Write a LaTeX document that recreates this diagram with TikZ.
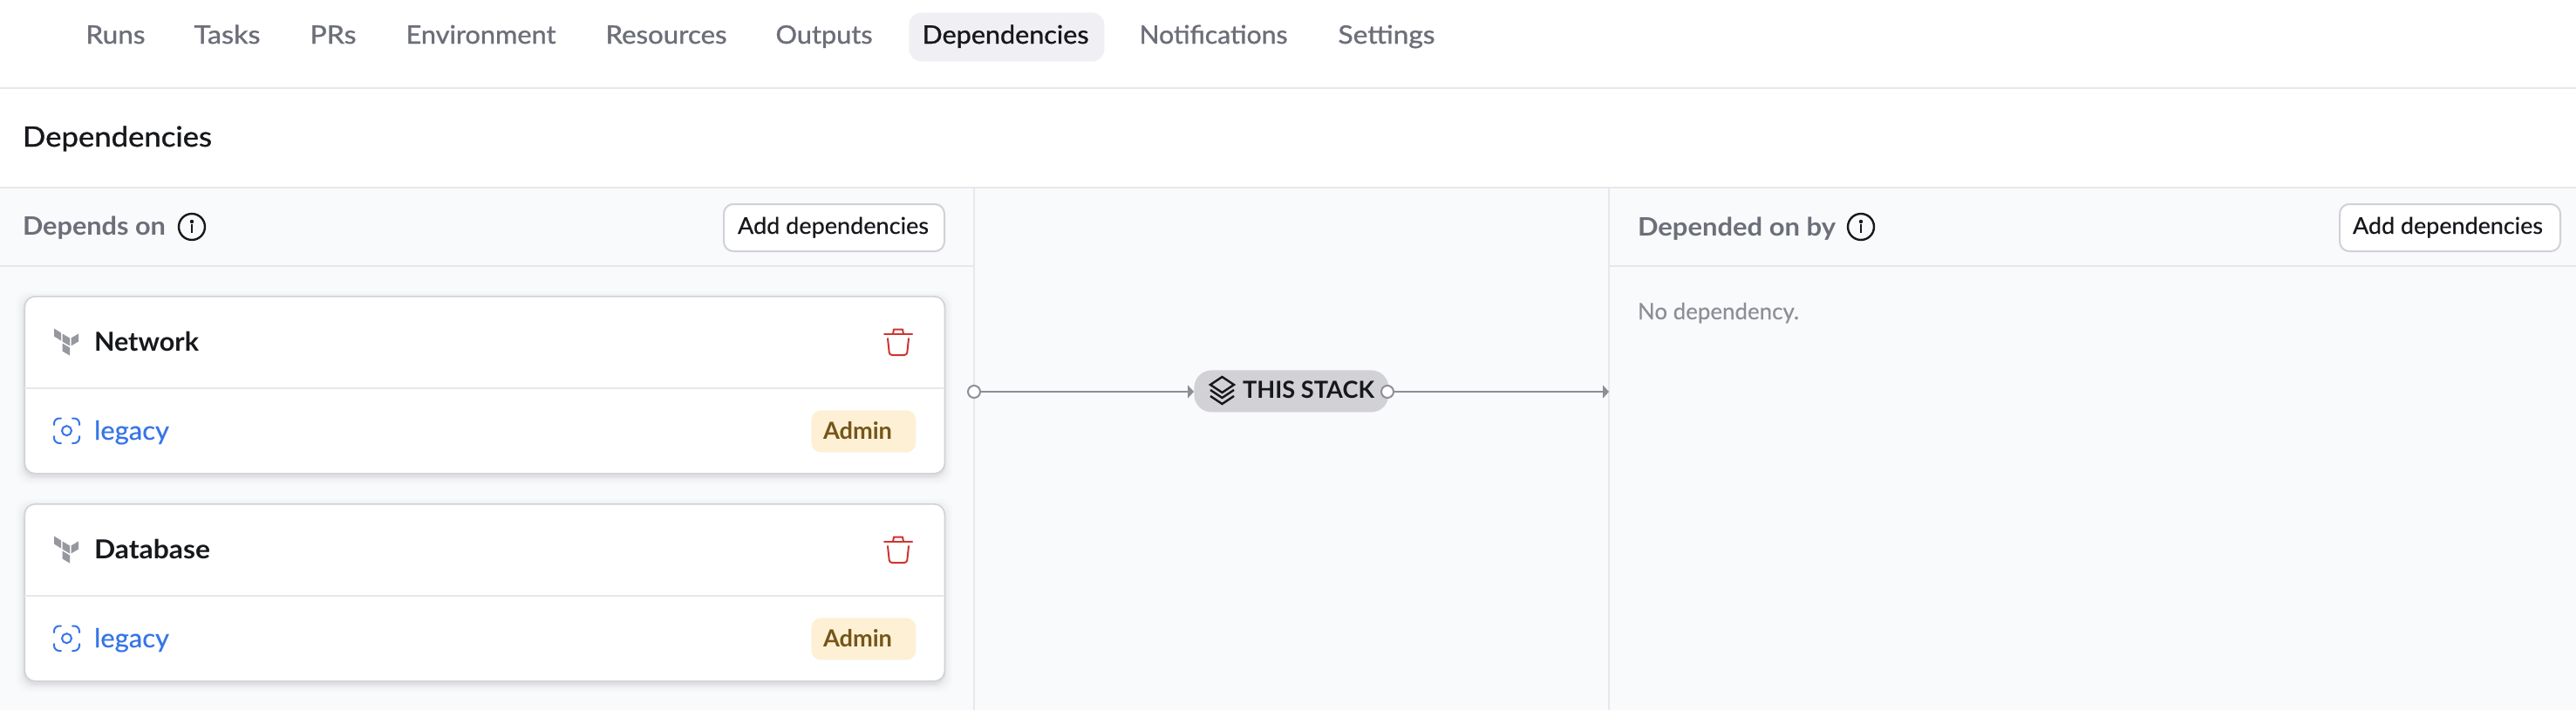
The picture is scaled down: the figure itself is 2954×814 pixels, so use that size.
\documentclass[tikz,border=0pt]{standalone}
\usepackage{fontspec}
\usetikzlibrary{arrows.meta}
\setmainfont{Lato}
\newfontfamily\semi[FakeBold=1]{Lato}
\newfontfamily\med[FakeBold=0.4]{Lato}
\newcommand\tw[2]{\resizebox{\dimexpr#1pt/2\relax}{\height}{#2}}
\definecolor{inkc}{HTML}{17181C}
\definecolor{grayt}{HTML}{6C6E79}
\definecolor{mutet}{HTML}{8E8E98}
\definecolor{linec}{HTML}{E8E8EC}
\definecolor{bordc}{HTML}{D1D1D6}
\definecolor{panel}{HTML}{F9FAFC}
\definecolor{tabbg}{HTML}{F0F0F4}
\definecolor{bluec}{HTML}{3675E8}
\definecolor{redc}{HTML}{D0352F}
\definecolor{badgebg}{HTML}{FDF0D5}
\definecolor{badget}{HTML}{75561A}
\definecolor{tficon}{HTML}{97979F}
\tikzset{
  txt/.style={inner sep=0pt,outer sep=0pt,anchor=base west,xshift=-0.5pt,yshift=-0.5pt},
  navt/.style={txt,text=grayt,font=\fontsize{14.5}{16}\semi},
  rule/.style={draw=linec,line width=1pt},
  btn/.style={draw=bordc,line width=1pt,fill=white,rounded corners=5.5pt,inner sep=0pt,anchor=north west,minimum width=126.5pt,minimum height=27pt},
  btnt/.style={txt,text=inkc,font=\fontsize{13.2}{15}\med},
  headt/.style={txt,text=grayt,font=\fontsize{14.5}{16}\bfseries},
  cardbox/.style={draw=bordc,line width=.8pt,fill=white,rounded corners=6pt,inner sep=0pt,anchor=north west,minimum width=527.5pt,minimum height=101.5pt},
  badgebox/.style={fill=badgebg,rounded corners=5.5pt,inner sep=0pt,anchor=north west,minimum width=60pt,minimum height=24pt},
  infoi/.style={draw=inkc,line width=1.2pt,circle,fill=none,minimum size=15pt,inner sep=0pt},
  port/.style={draw=mutet,line width=1pt,fill=white,circle,minimum size=7pt,inner sep=0pt},
  conn/.style={draw=mutet,line width=1pt,-{Triangle[length=3.5pt,width=7.5pt]}},
  tfp/.style={fill=tficon},
  focus/.style={draw=bluec,line width=1pt,line cap=round,rounded corners=3pt},
  trash/.style={draw=redc,line width=1pt,line cap=round,line join=round},
  stackl/.style={draw=inkc,line width=1.2pt,line join=miter}
}
\begin{document}
\begin{tikzpicture}[x=0.5pt,y=-0.5pt]
\useasboundingbox (0,0) rectangle (2954,814);
\fill[white] (0,0) rectangle (2954,814);
\fill[panel] (0,215) rectangle (2954,814);
% top tabs
\node[fill=tabbg,rounded corners=7pt,inner sep=0pt,anchor=north west,minimum width=112pt,minimum height=28pt] (tabbox) at (1042,14) {};
\node[navt] (t1) at (99.5,49) {\tw{68}{Runs}};
\node[navt] (t2) at (223.5,49) {\tw{76}{Tasks}};
\node[navt] (t3) at (356.5,49) {\tw{53}{PRs}};
\node[navt] (t4) at (466.5,49) {\tw{172}{Environment}};
\node[navt] (t5) at (695.5,49) {\tw{139}{Resources}};
\node[navt] (t6) at (890.5,49) {\tw{111}{Outputs}};
\node[navt,text=inkc] (t7) at (1058.5,49) {\tw{191}{Dependencies}};
\node[navt] (t8) at (1307.5,49) {\tw{170}{Notifications}};
\node[navt] (t9) at (1535.5,49) {\tw{111}{Settings}};
\draw[rule] (0,101) -- (2954,101);
\node[txt,text=inkc,font=\fontsize{16}{18}\semi] (title) at (27,167) {\tw{217}{Dependencies}};
\draw[rule] (0,215) -- (2954,215);
\draw[rule] (0,305) -- (1117,305);
\draw[rule] (1845,305) -- (2954,305);
\draw[rule] (1117,215) -- (1117,814);
\draw[rule] (1845,215) -- (1845,814);
% left header
\node[headt] (hl) at (27,268) {\tw{164}{Depends on}};
\node[infoi] (il) at (220,260) {};
\fill[inkc] (il.center) ++(0,-6) circle (1.1pt);
\draw[inkc,line width=1.2pt] (220,257) -- (220,267);
\node[btn] (b1) at (829,233) {};
\node[btnt] (b1t) at (847,267) {\tw{219}{Add dependencies}};
% right header
\node[headt] (hr) at (1879,269) {\tw{227}{Depended on by}};
\node[infoi] (ir) at (2134,260) {};
\fill[inkc] (ir.center) ++(0,-6) circle (1.1pt);
\draw[inkc,line width=1.2pt] (2134,257) -- (2134,267);
\node[btn] (b2) at (2682,233) {};
\node[btnt] (b2t) at (2699,267) {\tw{218}{Add dependencies}};
\node[txt,text=mutet,font=\fontsize{13}{15}\med] (nodep) at (1879,365) {\tw{185}{No dependency.}};
% cards
\foreach \n/\t/\w/\o in {net/Network/120/0,db/Database/133/238}{
\begin{scope}[yshift={-\o*0.5pt}]
  \foreach \s/\op in {9/.012,6/.02,3/.03,1/.04}{
    \fill[black,opacity=\op,rounded corners=7pt] (27.5-\s,339+4-\s) rectangle (1083+\s,542+4+\s);
  }
  \node[cardbox] (card\n) at (27.5,339) {};
  \draw[rule] (28,445) -- (1083,445);
  % terraform mark
  \fill[tfp] (62,376.5) -- (70,381.5) -- (70,390.5) -- (62,385.5) -- cycle;
  \fill[tfp] (71.5,382.5) -- (80,387.5) -- (80,396.5) -- (71.5,391.5) -- cycle;
  \fill[tfp] (81.5,387.5) -- (90,382.5) -- (90,391.5) -- (81.5,396.5) -- cycle;
  \fill[tfp] (71.5,393.5) -- (80,398.5) -- (80,407.5) -- (71.5,402.5) -- cycle;
  \node[txt,text=inkc,font=\fontsize{15}{17}\bfseries] (name\n) at (109,401) {\tw{\w}{\t}};
  % trash
  \draw[trash] (1014,383) -- (1046,383);
  \draw[trash] (1024,383) -- (1025,377.5) -- (1035,377.5) -- (1036,383);
  \draw[trash,rounded corners=1.5pt] (1018,388) -- (1020,407) -- (1040,407) -- (1042,388);
  % focus icon
  \draw[focus] (62,487) -- (62,479.5) -- (70,479.5);
  \draw[focus] (83,479.5) -- (91,479.5) -- (91,487);
  \draw[focus] (91,500) -- (91,508) -- (83,508);
  \draw[focus] (70,508) -- (62,508) -- (62,500);
  \draw[draw=bluec,line width=1pt] (76.5,493.7) circle (5.5);
  \node[txt,text=bluec,font=\fontsize{15}{17}\med] (link\n) at (109,503) {\tw{86}{legacy}};
  % badge
  \node[badgebox] (badge\n) at (930,470) {};
  \node[txt,text=badget,font=\fontsize{13.5}{15}\bfseries] (badget\n) at (945,502) {\tw{79}{Admin}};
\end{scope}
}
% this stack
\node[fill=bordc,rounded corners=10pt,inner sep=0pt,anchor=north west,minimum width=111.5pt,minimum height=24pt] (stack) at (1369,424) {};
\draw[stackl] (1401.5,432) -- (1415,441) -- (1401.5,450) -- (1388,441) -- cycle;
\draw[stackl] (1388,447) -- (1401.5,456) -- (1415,447);
\draw[stackl] (1388,454) -- (1401.5,463) -- (1415,454);
\node[txt,text=inkc,font=\fontsize{13.5}{15}\bfseries] (stackt) at (1426,455) {\tw{151}{THIS STACK}};
\coordinate (endr) at (1845,449);
\node[port] (pl) at (1117,449) {};
\node[port] (pr) at (1591,449) {};
\draw[conn] (pl) -- (stack.west |- pl);
\draw[conn] (pr) -- (endr);
\end{tikzpicture}
\end{document}
